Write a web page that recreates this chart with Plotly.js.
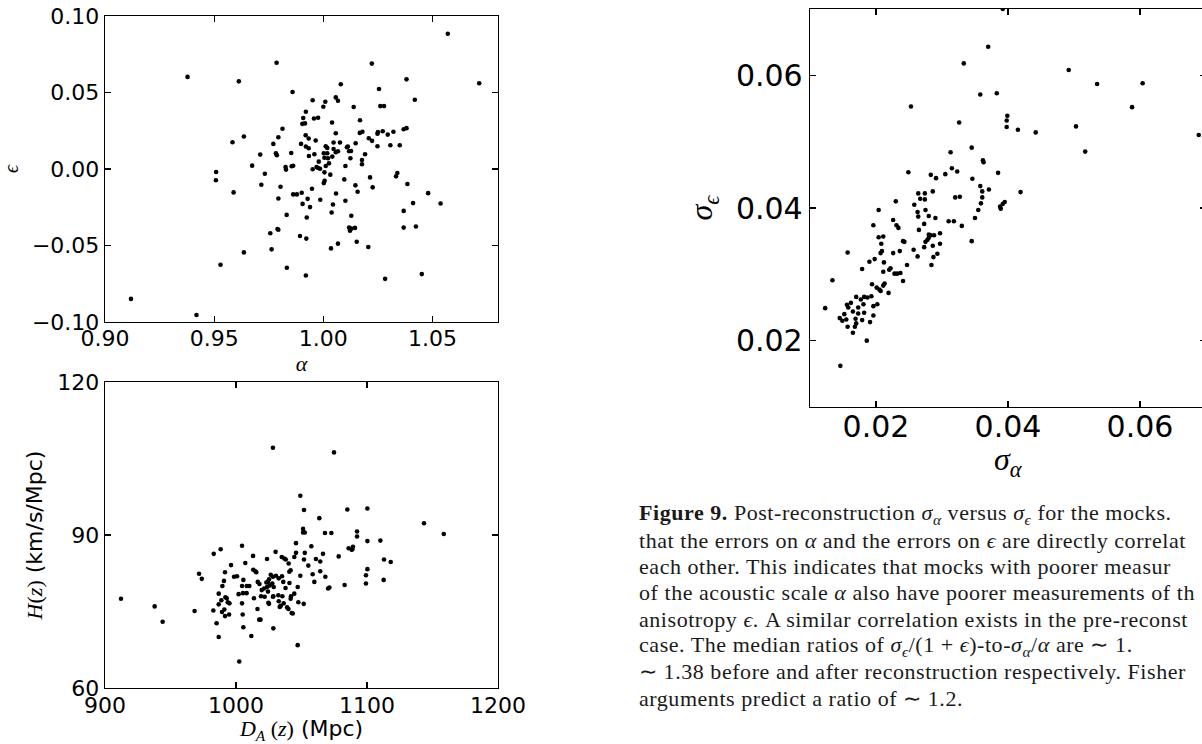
<!DOCTYPE html>
<html>
<head>
<meta charset="utf-8">
<script src="https://cdn.plot.ly/plotly-3.0.1.min.js"></script>
<style>
html,body{margin:0;padding:0;overflow:hidden;background:#fff;width:1202px;height:744px;}
#chart{width:1210px;height:744px;}
</style>
</head>
<body>
<div id="chart"></div>
<script>
// Top-left: alpha vs epsilon
const alphaVals = [1.0570,1.0714,0.9378,0.9613,0.9786,1.0222,1.0381,0.9859,1.0080,1.0057,1.0067,0.9951,1.0009,1.0000,1.0255,1.0419,1.0139,1.0261,1.0278,0.9920,0.9908,0.9957,0.9976,0.9904,0.9916,1.0040,1.0168,0.9813,1.0167,1.0179,1.0248,1.0250,1.0272,1.0295,1.0321,1.0368,1.0381,0.9636,0.9584,0.9794,0.9771,0.9919,0.9933,0.9965,1.0057,1.0076,1.0047,1.0011,1.0018,0.9898,0.9920,0.9933,1.0112,1.0108,1.0148,1.0208,1.0223,1.0248,1.0307,1.0350,1.0047,1.0057,1.0067,1.0118,1.0127,1.0002,1.0018,1.0005,1.0021,1.0041,0.9934,0.9959,0.9711,0.9783,0.9787,0.9853,1.0124,1.0191,1.0177,1.0177,0.9979,1.0026,1.0011,0.9969,0.9976,0.9985,0.9951,1.0101,0.9827,0.9829,0.9855,0.9862,0.9674,0.9509,0.9508,0.9732,1.0005,1.0032,1.0006,1.0002,1.0096,1.0214,1.0339,1.0333,1.0385,0.9716,0.9804,0.9948,1.0147,1.0226,1.0157,0.9589,0.9862,0.9879,0.9901,1.0058,1.0480,0.9794,0.9928,0.9986,0.9905,1.0044,1.0101,1.0411,1.0537,0.9939,1.0368,0.9832,1.0038,1.0128,0.9924,0.9790,0.9794,1.0118,1.0128,1.0145,1.0122,1.0368,1.0424,0.9757,0.9893,0.9922,1.0153,0.9763,0.9636,1.0035,1.0067,1.0206,0.9529,0.9833,0.9920,1.0283,1.0451,0.9119,0.9419];
const epsVals = [0.0884,0.0560,0.0602,0.0573,0.0694,0.0689,0.0586,0.0503,0.0554,0.0468,0.0446,0.0449,0.0440,0.0407,0.0523,0.0453,0.0405,0.0411,0.0411,0.0374,0.0333,0.0330,0.0335,0.0295,0.0298,0.0304,0.0319,0.0263,0.0236,0.0243,0.0230,0.0241,0.0247,0.0225,0.0243,0.0260,0.0267,0.0212,0.0175,0.0208,0.0164,0.0221,0.0199,0.0186,0.0234,0.0173,0.0173,0.0149,0.0138,0.0164,0.0147,0.0136,0.0147,0.0142,0.0168,0.0201,0.0184,0.0149,0.0155,0.0155,0.0131,0.0109,0.0116,0.0116,0.0118,0.0103,0.0103,0.0074,0.0070,0.0081,0.0085,0.0096,0.0094,0.0103,0.0090,0.0105,0.0070,0.0096,0.0059,0.0031,0.0048,0.0037,0.0020,0.0013,0.0007,0.0002,-0.0002,0.0020,0.0013,-0.0004,0.0018,0.0021,0.0022,-0.0020,-0.0074,-0.0031,-0.0022,-0.0037,-0.0077,-0.0092,-0.0068,-0.0055,-0.0026,-0.0048,-0.0098,-0.0103,-0.0116,-0.0129,-0.0107,-0.0120,-0.0149,-0.0153,-0.0166,-0.0166,-0.0155,-0.0160,-0.0158,-0.0193,-0.0195,-0.0201,-0.0228,-0.0232,-0.0208,-0.0223,-0.0225,-0.0249,-0.0274,-0.0300,-0.0284,-0.0306,-0.0317,-0.0392,-0.0397,-0.0383,-0.0390,-0.0385,-0.0403,-0.0383,-0.0376,-0.0420,-0.0438,-0.0455,-0.0475,-0.0525,-0.0545,-0.0519,-0.0488,-0.0510,-0.0626,-0.0645,-0.0696,-0.0718,-0.0687,-0.0849,-0.0954];

// Bottom-left: D_A(z) vs H(z)
const daVals = [1028.2,1074.8,1049.1,1051.9,1085.0,1100.3,1063.6,1143.5,1158.6,1051.2,1051.2,1052.5,1067.9,1072.8,1092.4,1092.4,1100.3,1110.2,1045.8,1057.5,1004.6,988.3,983.0,1030.2,1013.0,1034.9,1036.9,1038.0,1044.5,1045.8,1052.5,1051.9,1066.4,1078.4,1086.0,1088.8,1089.3,1088.3,1061.0,1064.3,1113.0,1118.1,1023.7,1007.1,1040.2,1055.2,996.2,1100.3,1013.2,1014.8,1015.5,1041.7,1040.7,1064.3,1058.5,971.8,973.9,991.6,998.5,1000.8,1026.5,1028.2,1030.5,1032.6,1035.1,1049.1,1068.2,1099.2,1112.7,1099.2,1059.8,1082.9,1071.3,1070.3,990.8,989.6,1005.6,1004.6,1008.2,1010.2,1016.6,1017.9,1023.2,1024.4,1025.7,1027.7,1028.8,1023.7,1021.4,1019.6,1037.8,1040.8,1047.1,986.8,1002.0,1005.3,1008.1,1019.1,1021.9,1028.5,1032.3,1035.4,1042.0,1044.5,1041.7,1013.7,1028.2,991.9,992.9,988.8,993.7,995.0,986.8,1004.6,1024.7,1025.2,1032.6,1034.1,1033.4,1036.4,1039.0,1040.0,1042.5,1043.3,1047.6,1051.7,912.2,937.9,944.0,968.4,982.7,989.3,991.1,991.6,994.7,985.2,1005.1,1016.4,1017.7,1018.7,1005.6,986.8,1011.7,1028.5,1047.1,1002.5,1036.1,1025.2,1024.4];
const hVals = [107.1,106.2,97.7,94.9,95.0,95.2,93.3,92.3,90.2,91.2,90.5,90.5,90.4,90.4,90.7,89.7,88.8,88.9,88.4,87.8,87.9,87.2,86.3,86.7,85.9,85.7,85.4,85.2,85.7,86.5,86.5,85.2,86.3,85.8,87.4,87.2,87.7,87.1,85.3,84.8,85.2,84.7,85.3,84.5,84.4,84.0,84.1,83.3,83.2,82.9,82.7,83.1,82.8,82.9,82.3,82.4,81.4,82.7,81.8,81.9,82.2,81.8,82.0,81.5,81.9,82.0,81.8,82.1,81.2,80.5,80.8,80.2,79.7,79.5,81.0,80.0,81.2,80.0,80.0,80.0,80.8,80.4,80.7,80.8,80.1,80.5,79.8,79.8,79.5,79.2,79.6,80.6,79.8,78.5,78.4,78.6,78.6,78.0,77.9,78.0,78.2,78.0,78.0,78.5,77.5,77.6,77.9,77.8,77.6,77.2,76.8,76.6,76.4,76.6,76.7,76.5,77.0,76.1,75.9,76.6,75.8,75.5,74.7,74.6,76.8,76.5,77.5,76.0,73.0,75.1,75.2,74.9,75.4,74.1,74.4,72.7,74.4,75.5,73.4,73.4,71.9,70.0,70.2,71.7,68.4,65.2,80.8,81.3,78.9];

// Right: sigma_alpha vs sigma_epsilon
const sigmaAlpha = [0.0392,0.0370,0.0333,0.0253,0.0358,0.0383,0.0492,0.0535,0.0604,0.0588,0.0689,0.0503,0.0517,0.0399,0.0398,0.0398,0.0415,0.0442,0.0326,0.0345,0.0313,0.0362,0.0363,0.0315,0.0323,0.0305,0.0283,0.0291,0.0249,0.0346,0.0385,0.0358,0.0371,0.0361,0.0419,0.0286,0.0264,0.0274,0.0267,0.0274,0.0320,0.0327,0.0361,0.0230,0.0258,0.0359,0.0395,0.0392,0.0388,0.0204,0.0263,0.0264,0.0275,0.0280,0.0290,0.0273,0.0310,0.0318,0.0330,0.0350,0.0355,0.0389,0.0196,0.0226,0.0231,0.0234,0.0265,0.0280,0.0283,0.0288,0.0297,0.0280,0.0278,0.0275,0.0297,0.0286,0.0273,0.0293,0.0287,0.0284,0.0263,0.0257,0.0345,0.0204,0.0211,0.0208,0.0209,0.0207,0.0226,0.0236,0.0241,0.0243,0.0247,0.0157,0.0190,0.0198,0.0212,0.0179,0.0211,0.0220,0.0222,0.0228,0.0232,0.0237,0.0241,0.0134,0.0194,0.0201,0.0205,0.0207,0.0213,0.0211,0.0219,0.0193,0.0187,0.0182,0.0177,0.0170,0.0162,0.0156,0.0158,0.0123,0.0173,0.0181,0.0196,0.0202,0.0165,0.0173,0.0182,0.0152,0.0145,0.0149,0.0155,0.0157,0.0169,0.0170,0.0168,0.0179,0.0196,0.0191,0.0165,0.0186,0.0146];
const sigmaEps = [0.0700,0.0643,0.0618,0.0553,0.0571,0.0573,0.0608,0.0587,0.0588,0.0552,0.0510,0.0523,0.0485,0.0539,0.0532,0.0522,0.0518,0.0514,0.0529,0.0491,0.0484,0.0472,0.0469,0.0460,0.0455,0.0451,0.0450,0.0445,0.0454,0.0444,0.0453,0.0433,0.0428,0.0425,0.0424,0.0425,0.0422,0.0422,0.0414,0.0413,0.0416,0.0417,0.0416,0.0410,0.0405,0.0407,0.0409,0.0406,0.0402,0.0397,0.0394,0.0387,0.0397,0.0388,0.0385,0.0376,0.0380,0.0380,0.0373,0.0385,0.0397,0.0399,0.0374,0.0382,0.0374,0.0370,0.0367,0.0360,0.0359,0.0359,0.0362,0.0355,0.0352,0.0349,0.0346,0.0343,0.0341,0.0331,0.0326,0.0314,0.0327,0.0337,0.0350,0.0356,0.0357,0.0346,0.0335,0.0332,0.0332,0.0335,0.0350,0.0349,0.0314,0.0333,0.0319,0.0323,0.0318,0.0308,0.0304,0.0307,0.0309,0.0301,0.0301,0.0302,0.0290,0.0291,0.0285,0.0280,0.0277,0.0275,0.0286,0.0283,0.0272,0.0267,0.0265,0.0266,0.0262,0.0266,0.0257,0.0254,0.0250,0.0249,0.0250,0.0255,0.0252,0.0255,0.0244,0.0241,0.0242,0.0240,0.0234,0.0230,0.0232,0.0221,0.0233,0.0226,0.0221,0.0231,0.0238,0.0228,0.0212,0.0200,0.0162];

// Tick values
const ticksAlpha = [0.90, 0.95, 1.00, 1.05];
const ticksEps = [-0.10, -0.05, 0.00, 0.05, 0.10];
const ticksDA = [900, 1000, 1100, 1200];
const ticksH = [60, 90, 120];
const ticksSigma = [0.02, 0.04, 0.06];

// Caption lines (visible portion)
const captionLines = [
  "<b>Figure 9.</b> Post-reconstruction <i>σ</i><sub><i>α</i></sub> versus <i>σ</i><sub><i>ϵ</i></sub> for the mocks.",
  "that the errors on <i>α</i> and the errors on <i>ϵ</i> are directly correlat",
  "each other. This indicates that mocks with poorer measur",
  "of the acoustic scale <i>α</i> also have poorer measurements of th",
  "anisotropy <i>ϵ</i>. A similar correlation exists in the pre-reconst",
  "case. The median ratios of <i>σ</i><sub><i>ϵ</i></sub>/(1 + <i>ϵ</i>)-to-<i>σ</i><sub><i>α</i></sub>/<i>α</i> are ∼ 1.",
  "∼ 1.38 before and after reconstruction respectively. Fisher",
  "arguments predict a ratio of ∼ 1.2."
];

const W = 1210, H = 744;
const SANS = "DejaVu Sans, sans-serif";
const SERIF = "Liberation Serif, serif";
const mathSpan = s => `<span style="font-family:'Liberation Serif'">${s}</span>`;

function ax(extra) {
  return Object.assign({
    showline: true, linecolor: '#000', linewidth: 1.3, mirror: 'ticks',
    ticks: 'inside', ticklen: 6, tickwidth: 1.2, tickcolor: '#000',
    showgrid: false, zeroline: false, fixedrange: true,
    tickfont: {family: SANS, size: 22, color: '#000'}
  }, extra);
}

const mk = {color: '#000', size: 4.6};
const traces = [
  {x: alphaVals, y: epsVals, type: 'scatter', mode: 'markers', marker: mk, xaxis: 'x', yaxis: 'y', hoverinfo: 'none'},
  {x: daVals, y: hVals, type: 'scatter', mode: 'markers', marker: mk, xaxis: 'x2', yaxis: 'y2', hoverinfo: 'none'},
  {x: sigmaAlpha, y: sigmaEps, type: 'scatter', mode: 'markers', marker: mk, xaxis: 'x3', yaxis: 'y3', hoverinfo: 'none'}
];

const px = v => v / W;
const py = v => 1 - v / H;

const annotations = captionLines.map((t, i) => ({
  text: `<span style="letter-spacing:0.55px">${t}</span>`, xref: 'paper', yref: 'paper',
  x: px(637), y: py(514 + 26.3 * i), xanchor: 'left', yanchor: 'middle', align: 'left',
  showarrow: false, font: {family: SERIF, size: 22, color: '#1a1a1a'}
}));

// x-axis title of the right panel, placed just under its tick labels
annotations.push({
  text: '<i>σ</i><sub><i>α</i></sub>', xref: 'paper', yref: 'paper',
  x: px(1008), y: py(461), xanchor: 'center', yanchor: 'middle',
  showarrow: false, font: {family: SERIF, size: 32, color: '#000'}
});

const layout = {
  width: W, height: H,
  margin: {l: 0, r: 0, t: 0, b: 0},
  paper_bgcolor: '#fff', plot_bgcolor: '#fff',
  showlegend: false,
  xaxis: ax({domain: [px(105), px(498)], range: [0.90, 1.08], tickvals: ticksAlpha, tickformat: '.2f', anchor: 'y',
    ticklabelstandoff: -4,
    title: {text: '<i>α</i>', font: {family: SERIF, size: 22, color: '#000'}, standoff: 0}}),
  yaxis: ax({domain: [py(322), py(16)], range: [-0.10, 0.10], tickvals: ticksEps, tickformat: '.2f', anchor: 'x',
    title: {text: '<i>ϵ</i>', font: {family: SERIF, size: 20, color: '#000'}, standoff: 10}}),
  xaxis2: ax({domain: [px(105), px(498)], range: [900, 1200], tickvals: ticksDA, anchor: 'y2',
    ticklabelstandoff: -3,
    title: {text: mathSpan('<i>D<sub>A</sub></i> (<i>z</i>)') + ' (Mpc)', font: {family: SANS, size: 22, color: '#000'}, standoff: 2}}),
  yaxis2: ax({domain: [py(688), py(382)], range: [60, 120], tickvals: ticksH, anchor: 'x2',
    title: {text: mathSpan('<i>H</i>(<i>z</i>)') + ' (km/s/Mpc)', font: {family: SANS, size: 22, color: '#000'}, standoff: 8}}),
  xaxis3: ax({domain: [px(810), px(1206)], range: [0.01, 0.07], tickvals: ticksSigma, tickformat: '.2f', anchor: 'y3',
    ticklabelstandoff: -7,
    tickfont: {family: SANS, size: 30, color: '#000'}}),
  yaxis3: ax({domain: [py(407), py(9)], range: [0.01, 0.07], tickvals: ticksSigma, tickformat: '.2f', anchor: 'x3',
    tickfont: {family: SANS, size: 30, color: '#000'},
    title: {text: '<i>σ</i><sub><i>ϵ</i></sub>', font: {family: SERIF, size: 32, color: '#000'}, standoff: 13}}),
  annotations: annotations
};

Plotly.newPlot('chart', traces, layout, {displayModeBar: false, staticPlot: true});
</script>
</body>
</html>
